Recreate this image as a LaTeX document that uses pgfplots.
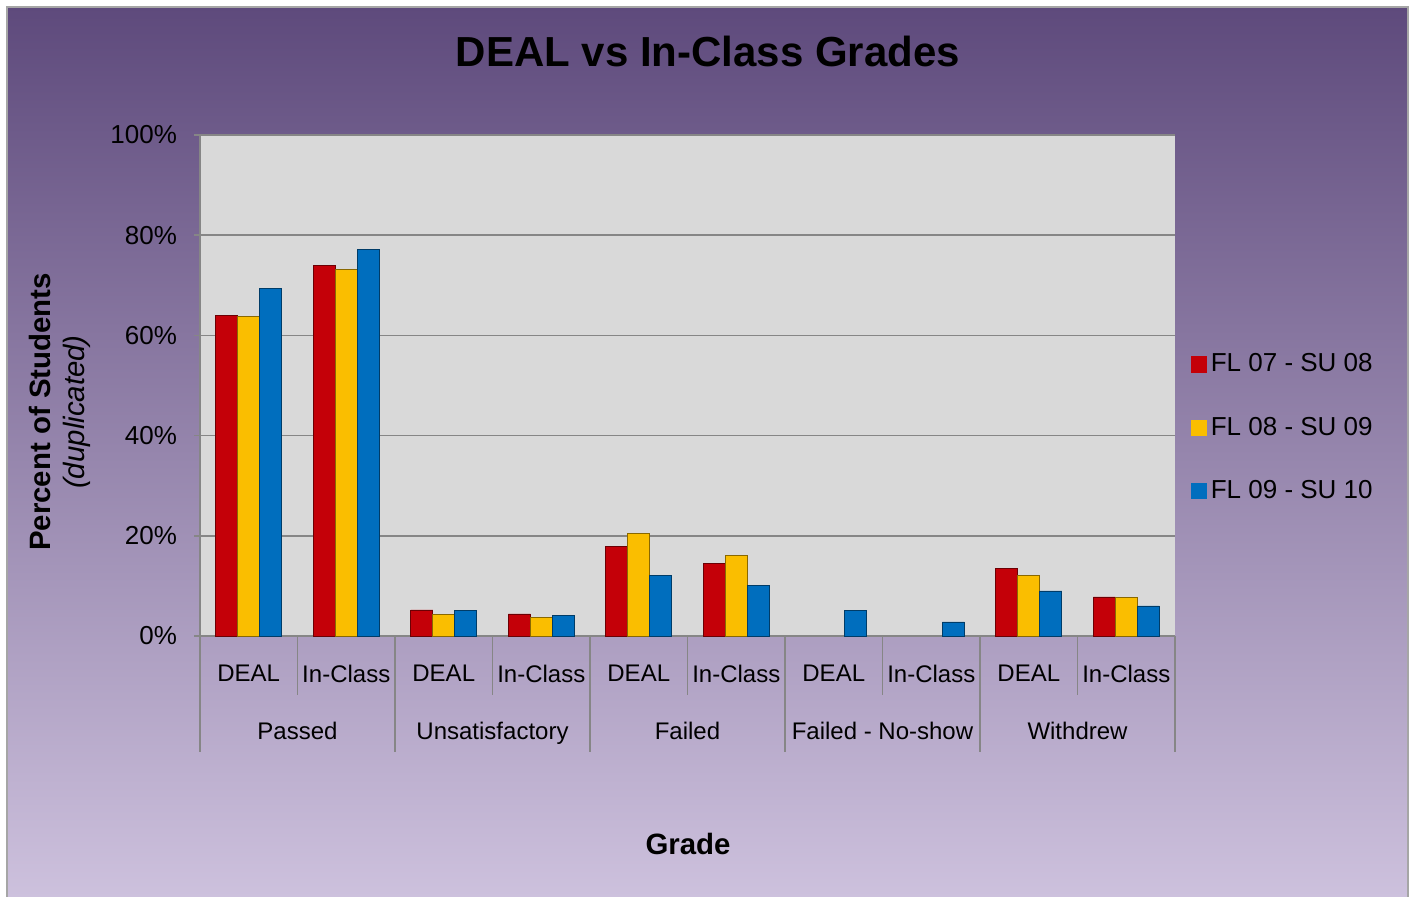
\documentclass[border=0pt]{standalone}
\usepackage{fontspec}
\setmainfont{Liberation Sans}
\usepackage{pgfplots}
\pgfplotsset{compat=1.18}

\definecolor{cred}{RGB}{196,0,8}
\definecolor{cyel}{RGB}{250,190,0}
\definecolor{cblu}{RGB}{0,110,190}
\definecolor{bgtop}{RGB}{94,74,124}
\definecolor{bgmid}{RGB}{176,160,200}
\definecolor{bgbot}{RGB}{206,194,222}
\definecolor{plotbg}{RGB}{217,217,217}
\definecolor{gridc}{RGB}{134,134,134}

\begin{document}
\begin{tikzpicture}
\clip (0,0) rectangle (705.5pt,448.5pt);
\fill[white] (0,0) rectangle (705.5pt,448.5pt);
\shade[top color=bgtop, middle color=bgmid, bottom color=bgbot]
  (3.5pt,-4pt) rectangle (704pt,445pt);
\draw[gray!70, line width=0.8pt] (3.5pt,-4pt) rectangle (704pt,445pt);

% title and outer labels
\node[font=\fontsize{21}{25}\selectfont\bfseries] at (354pt,422.5pt) {DEAL vs In-Class Grades};
\node[font=\fontsize{14.7}{17}\selectfont, rotate=90, align=center] at (30pt,242.5pt)
  {\textbf{Percent of Students}\\\textit{(duplicated)}};
\node[font=\fontsize{14.7}{17}\selectfont\bfseries] at (344pt,26.5pt) {Grade};

\begin{axis}[
  at={(100pt,130.5pt)}, anchor=south west,
  scale only axis, width=487.5pt, height=250.5pt,
  ybar=0pt, bar width=11pt,
  xmin=-0.5, xmax=9.5,
  ymin=0, ymax=100,
  ytick={0,20,40,60,80,100},
  yticklabel={\pgfmathprintnumber{\tick}\%},
  /pgf/number format/assume math mode=true,
  xtick={0,...,9},
  xticklabels={DEAL,In-Class,DEAL,In-Class,DEAL,In-Class,DEAL,In-Class,DEAL,In-Class},
  xticklabel style={yshift=-8pt, font=\fontsize{12}{14}\selectfont},
  yticklabel style={xshift=-5pt, font=\fontsize{13}{15.6}\selectfont},
  x tick style={draw=none},
  y tick style={gridc, line width=0.8pt},
  tick align=outside, major tick length=3pt,
  ymajorgrids, grid style={gridc, line width=0.8pt},
  axis x line*=bottom, axis y line*=left,
  axis line style={-, gridc, line width=0.8pt},
  axis background/.style={fill=plotbg},
  clip=false,
  legend style={at={(1.016,0.572)}, anchor=north west, draw=none, fill=none,
    font=\fontsize{13}{15.6}\selectfont, row sep=17pt, inner sep=0pt},
  legend cell align=left,
]
\addplot[draw=cred!55!black, line width=0.4pt, fill=cred,
  legend image code/.code={\fill[cred] (0pt,-3.8pt) rectangle (7.5pt,3.8pt);}]
  coordinates {(0,63.9) (1,73.9) (2,5.2) (3,4.4) (4,17.8) (5,14.5) (8,13.4) (9,7.8)};
\addlegendentry{FL 07 - SU 08}
\addplot[draw=cyel!55!black, line width=0.4pt, fill=cyel,
  legend image code/.code={\fill[cyel] (0pt,-3.8pt) rectangle (7.5pt,3.8pt);}]
  coordinates {(0,63.7) (1,73.1) (2,4.3) (3,3.7) (4,20.5) (5,16.0) (8,12.0) (9,7.7)};
\addlegendentry{FL 08 - SU 09}
\addplot[draw=cblu!55!black, line width=0.4pt, fill=cblu,
  legend image code/.code={\fill[cblu] (0pt,-3.8pt) rectangle (7.5pt,3.8pt);}]
  coordinates {(0,69.3) (1,77.2) (2,5.1) (3,4.1) (4,12.0) (5,10.0) (6,5.1) (7,2.8) (8,9.0) (9,6.0)};
\addlegendentry{FL 09 - SU 10}

% category separators
\pgfplotsinvokeforeach{0.5,2.5,4.5,6.5,8.5}{
  \draw[gridc, line width=0.8pt] (axis cs:#1,0) -- ([yshift=-29.5pt]axis cs:#1,0);
}
\pgfplotsinvokeforeach{-0.5,1.5,3.5,5.5,7.5,9.5}{
  \draw[gridc, line width=0.8pt] (axis cs:#1,0) -- ([yshift=-58pt]axis cs:#1,0);
}
% group labels
\node[font=\fontsize{12}{14}\selectfont, anchor=base] at ([yshift=-52pt]axis cs:0.5,0) {Passed};
\node[font=\fontsize{12}{14}\selectfont, anchor=base] at ([yshift=-52pt]axis cs:2.5,0) {Unsatisfactory};
\node[font=\fontsize{12}{14}\selectfont, anchor=base] at ([yshift=-52pt]axis cs:4.5,0) {Failed};
\node[font=\fontsize{12}{14}\selectfont, anchor=base] at ([yshift=-52pt]axis cs:6.5,0) {Failed - No-show};
\node[font=\fontsize{12}{14}\selectfont, anchor=base] at ([yshift=-52pt]axis cs:8.5,0) {Withdrew};
\end{axis}
\end{tikzpicture}
\end{document}
